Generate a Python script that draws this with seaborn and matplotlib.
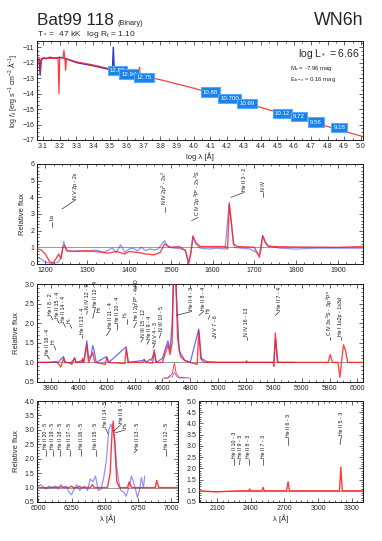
import numpy as np
import pandas as pd
import matplotlib
matplotlib.use("Agg")
import matplotlib.pyplot as plt
from matplotlib.ticker import MultipleLocator, FormatStrFormatter
import seaborn as sns

sns.set_theme(style="ticks")
plt.rcParams['font.family'] = ['Liberation Sans', 'DejaVu Sans']
plt.rcParams['mathtext.fontset'] = 'custom'
plt.rcParams['mathtext.rm'] = 'Liberation Sans'
plt.rcParams['mathtext.it'] = 'Liberation Sans:italic'

# ---------------- data: SED panel (log lambda, log f) ----------------
sed_model_x = [3.064, 3.08, 3.085, 3.09, 3.10, 3.15, 3.19, 3.195, 3.20, 3.22, 3.225, 3.23,
               3.235, 3.24, 3.30, 3.40, 3.50, 3.60, 3.675, 3.677, 3.68, 3.70, 3.72, 3.74,
               3.745, 3.75, 3.80, 4.00, 4.50, 5.012]
sed_model_y = [-11.65, -11.7, -12.6, -11.75, -11.7, -11.72, -11.7, -14.0, -11.7, -11.65, -11.2,
               -11.7, -12.5, -11.75, -11.95, -12.15, -12.4, -12.6, -12.75, -12.3, -12.8, -12.85,
               -12.9, -12.95, -12.75, -13.0, -13.1, -13.65, -15.2, -16.78]
sed_obs_x = [3.064, 3.075, 3.083, 3.087, 3.10, 3.12, 3.14, 3.16, 3.18, 3.20, 3.22, 3.25,
             3.30, 3.40, 3.50, 3.515, 3.52, 3.525, 3.53, 3.55, 3.60, 3.65, 3.70, 3.76]
sed_obs_y = [-11.75, -11.8, -12.8, -11.9, -11.7, -11.75, -11.65, -11.7, -11.7, -11.65, -11.7,
             -11.8, -12.0, -12.2, -12.45, -12.4, -11.0, -12.3, -12.5, -12.55, -12.65, -12.75,
             -12.85, -13.0]
phot_x = [3.545, 3.615, 3.705, 4.10, 4.215, 4.32, 4.53, 4.63, 4.73, 4.87]
phot_y = [-12.53, -12.74, -12.96, -13.9, -14.33, -14.65, -15.27, -15.5, -15.84, -16.18]
phot_lab = ["12.88", "12.94", "12.75", "10.88", "10.700", "10.69", "10.12", "9.72", "9.56", "9.18"]

# ---------------- data: UV panel ----------------
uv_model_x = [1180, 1190, 1200, 1210, 1218, 1225, 1232, 1237, 1242, 1246, 1252, 1270, 1300, 1330,
              1350, 1370, 1390, 1400, 1420, 1440, 1460, 1475, 1485, 1492, 1500, 1520, 1535, 1543,
              1548, 1553, 1560, 1570, 1600, 1630, 1636, 1640, 1645, 1650, 1660, 1700, 1712, 1716,
              1720, 1726, 1735, 1800, 1900, 1960]
uv_model_y = [0.9, 0.85, 0.6, 0.15, 0.05, 0.3, 0.6, 0.3, 1.0, 1.1, 0.8, 0.75, 0.8, 0.72, 0.65, 0.75,
              0.6, 0.75, 0.7, 0.6, 0.55, 0.7, 1.2, 1.1, 1.0, 1.05, 0.8, 0.05, 0.6, 1.65, 1.3, 1.05,
              1.05, 1.05, 0.9, 3.6, 2.5, 1.2, 1.05, 1.0, 0.4, 0.9, 1.7, 1.3, 1.05, 1.02, 1.0, 1.05]
uv_obs_x = [1180, 1190, 1200, 1210, 1220, 1230, 1238, 1244, 1250, 1260, 1280, 1300, 1320, 1340,
            1360, 1370, 1380, 1390, 1400, 1410, 1420, 1430, 1440, 1450, 1460, 1470, 1485, 1495,
            1510, 1525, 1535, 1543, 1550, 1553, 1560, 1570, 1590, 1610, 1630, 1640, 1646, 1652,
            1670, 1690, 1712, 1720, 1730, 1760, 1800, 1850, 1900, 1960]
uv_obs_y = [0.4, 0.3, 0.1, 0.05, 0.05, 0.1, 0.4, 1.35, 0.8, 0.75, 0.8, 0.75, 0.85, 0.7, 0.95, 0.7,
            1.15, 0.7, 0.9, 0.95, 0.8, 1.0, 0.8, 0.9, 0.85, 0.9, 1.4, 1.0, 0.95, 0.9, 0.85, 0.05,
            1.0, 1.7, 1.2, 0.95, 0.9, 0.95, 0.9, 3.7, 2.2, 1.0, 0.95, 0.9, 0.6, 1.7, 1.1, 0.95,
            0.9, 0.95, 0.95, 0.95]

# ---------------- data: optical panel ----------------
opt_model_x = [3700, 3780, 3840, 3870, 3890, 3900, 3930, 3950, 3970, 3980, 4020, 4026, 4035, 4058,
               4070, 4100, 4115, 4190, 4200, 4215, 4330, 4340, 4355, 4400, 4460, 4471, 4490, 4530,
               4541, 4555, 4600, 4640, 4655, 4670, 4680, 4695, 4710, 4730, 4760, 4800, 4850, 4861,
               4875, 4900, 5000, 5200, 5205, 5210, 5395, 5400, 5411, 5425, 5700, 5790, 5805, 5820,
               5860, 5875, 5885, 5900, 5915, 5930, 5960, 6080]
opt_model_y = [1.0, 1.0, 1.02, 0.88, 1.1, 1.0, 1.0, 0.95, 1.12, 1.0, 1.0, 1.1, 1.0, 1.45, 1.0, 1.25,
               1.0, 0.95, 1.12, 1.0, 0.97, 1.35, 1.0, 1.0, 1.0, 1.05, 1.0, 0.98, 1.32, 1.0, 1.0, 1.45,
               1.2, 1.5, 3.2, 3.2, 1.6, 1.15, 1.05, 1.0, 0.95, 1.8, 1.1, 1.0, 1.0, 1.0, 1.04, 1.0,
               1.0, 0.9, 1.75, 1.0, 1.0, 1.0, 1.2, 1.0, 1.0, 0.62, 1.0, 1.45, 1.3, 1.0, 1.0, 1.0]
opt_obs_x = [3700, 3800, 3850, 3890, 3905, 3940, 3970, 3980, 4025, 4035, 4058, 4070, 4090, 4100,
             4110, 4125, 4200, 4215, 4340, 4355, 4460, 4470, 4485, 4510, 4520, 4541, 4555, 4600,
             4630, 4640, 4655, 4670, 4680, 4695, 4720, 4760, 4800, 4861, 4880, 4920, 5000, 5400,
             5412, 5430, 5550]
opt_obs_y = [1.0, 1.0, 1.0, 1.15, 1.0, 0.98, 1.1, 1.0, 1.05, 1.0, 1.55, 1.1, 1.2, 1.43, 1.3, 1.0,
             1.15, 1.0, 1.4, 1.0, 1.05, 1.08, 1.0, 1.08, 1.05, 1.25, 1.0, 1.1, 1.45, 1.55, 1.3, 2.0,
             3.2, 3.2, 1.3, 1.05, 1.0, 1.85, 1.1, 1.02, 1.0, 1.0, 1.6, 1.0, 1.0]
ins_model_x = [4610, 4640, 4650, 4670, 4686, 4700, 4720, 4800]
ins_model_y = [0.6, 0.6, 0.65, 0.7, 0.98, 0.7, 0.62, 0.6]
ins_obs_x = [4610, 4640, 4650, 4670, 4686, 4700, 4720, 4760]
ins_obs_y = [0.6, 0.6, 0.64, 0.62, 0.75, 0.65, 0.6, 0.6]

# ---------------- data: red panel ----------------
red_model_x = [5980, 6100, 6170, 6200, 6230, 6250, 6260, 6300, 6310, 6320, 6390, 6406, 6420, 6520,
               6540, 6555, 6563, 6575, 6590, 6610, 6670, 6683, 6700, 6880, 6890, 6905, 7080]
red_model_y = [1.0, 1.0, 1.02, 1.0, 1.0, 1.05, 1.0, 1.0, 1.05, 1.0, 1.0, 1.1, 1.0, 1.0, 1.5, 3.0,
               3.3, 2.5, 1.2, 1.0, 1.0, 1.2, 1.0, 1.0, 1.25, 1.0, 1.0]
red_obs_x = [6000, 6020, 6040, 6060, 6080, 6100, 6130, 6150, 6170, 6190, 6210, 6230, 6250, 6270,
             6290, 6310, 6330, 6350, 6370, 6390, 6410, 6430, 6450, 6470, 6490, 6510, 6530, 6545,
             6560, 6575, 6590, 6605, 6620, 6640, 6660, 6680, 6700, 6715, 6730, 6745, 6760, 6775,
             6790, 6800]
red_obs_y = [1.05, 1.1, 1.0, 0.95, 1.05, 1.0, 1.05, 0.95, 1.1, 1.0, 1.05, 0.85, 0.75, 0.95, 1.1,
             0.9, 1.0, 1.05, 0.9, 1.3, 1.2, 1.4, 0.9, 0.95, 1.3, 1.9, 3.0, 3.2, 3.0, 2.6, 1.7, 1.2,
             0.9, 0.85, 0.7, 1.0, 1.4, 1.2, 0.95, 0.65, 0.9, 1.35, 1.0, 1.4]

# ---------------- data: near-UV panel ----------------
nuv_model_x = [1940, 2000, 2100, 2200, 2300, 2385, 2390, 2400, 2500, 2511, 2520, 2720, 2733, 2745,
               3190, 3203, 3215, 3400]
nuv_model_y = [1.0, 0.98, 0.95, 0.98, 1.0, 1.0, 1.08, 1.0, 1.0, 1.15, 1.0, 1.0, 1.4, 1.0, 1.0, 2.05,
               1.0, 1.0]

# ---------------- line identifications: (x_text, y_text, text, x_leader, y_leader) ----------------
uv_ids = [(1216, 2.55, "Lα", 1216, 2.2),
          (1272, 3.85, "N V 2p - 2s", 1240, 3.3),
          (1486, 3.45, "N IV 2p$^2$ - 2s$^2$", 1486, 3.15),
          (1566, 2.8, "C IV 2p $^2$P$^o$ - 2s $^2$S", 1550, 2.6),
          (1676, 4.3, "He II 3 - 2", 1644, 4.0),
          (1721, 4.3, "N IV", 1721, 4.05)]
opt_ids = [(3775, 1.17, "He II 16 - 4", 3790, 1.08),
           (3822, 1.42, "H$_\\zeta$", 3835, 1.32),
           (3800, 2.18, "He I 8 - 2", 3815, 2.08),
           (3845, 2.09, "He II 15 - 4", 3860, 1.99),
           (3890, 2.0, "He II 14 - 4", 3905, 1.9),
           (3936, 1.96, "H$_\\epsilon$", 3950, 1.87),
           (4024, 1.7, "He II 13 - 4", 4024, 1.62),
           (4060, 2.32, "N IV 12 - 9", 4058, 2.22),
           (4118, 2.39, "He II 12 - 4", 4100, 2.12),
           (4152, 2.22, "H$_\\delta$", 4152, 2.22),
           (4228, 1.85, "He II 11 - 4", 4200, 1.68),
           (4280, 1.98, "He II 10 - 4", 4275, 1.82),
           (4343, 2.1, "H$_\\gamma$", 4343, 1.97),
           (4415, 2.02, "He I 2p$^3$P$^o$ - 4d$^3$D", 4395, 1.88),
           (4463, 1.62, "N III 15 - 12", 4445, 1.52),
           (4505, 1.56, "He II 9 - 4", 4490, 1.46),
           (4547, 1.46, "N V 4 - 3", 4532, 1.37),
           (4592, 1.76, "N III 10 - 5", 4577, 1.62),
           (4811, 2.3, "He II 4 - 3", 4700, 2.2),
           (4897, 2.3, "He II 8 - 4", 4862, 2.2),
           (4940, 2.2, "H$_\\beta$", 4930, 2.1),
           (4983, 1.65, "N V 7 - 6", 4975, 1.6),
           (5205, 1.65, "N IV 16 - 13", 5205, 1.56),
           (5440, 2.3, "He II 7 - 4", 5411, 2.2),
           (5805, 1.65, "C IV 3s $^2$S - 3p $^2$P$^o$", 5805, 1.56),
           (5882, 1.65, "He I 1s2p - 1s3d", 5882, 1.56)]
red_ids = [(6057, 2.3, "He II 20 - 5", 6057, 2.08),
           (6108, 2.3, "He II 19 - 5", 6108, 2.08),
           (6165, 2.3, "He II 18 - 5", 6165, 2.08),
           (6238, 2.3, "He II 17 - 5", 6238, 2.08),
           (6323, 2.3, "He II 16 - 5", 6323, 2.08),
           (6432, 2.3, "He II 15 - 5", 6432, 2.08),
           (6505, 3.05, "He II 14 - 5", 6527, 2.85),
           (6625, 3.2, "He II 6 - 4", 6565, 2.95),
           (6655, 3.0, "H$_\\alpha$", 6580, 2.9),
           (6742, 2.3, "He II 13 - 5", 6720, 2.2),
           (6961, 2.3, "He II 12 - 5", 6961, 2.08)]
nuv_ids = [(2253, 2.4, "He II 10 - 3", 2253, 2.16),
           (2306, 2.4, "He II 9 - 3", 2300, 2.16),
           (2385, 2.4, "He II 8 - 3", 2385, 2.16),
           (2511, 2.4, "He II 7 - 3", 2511, 2.16),
           (2733, 3.35, "He II 6 - 3", 2733, 3.05),
           (3208, 3.45, "He II 5 - 3", 3195, 3.05)]

RED = "#ff1a1a"
BLUE = "#3a3aff"
GRAY = "#9a9a9a"


def spec(ax, x, y, color, lw, alpha, z):
    df = pd.DataFrame({"x": x, "y": y})
    sns.lineplot(data=df, x="x", y="y", ax=ax, color=color, lw=lw, alpha=alpha,
                 estimator=None, sort=False, zorder=z, legend=False)


def ids(ax, items, fs=3.8):
    yr = ax.get_ylim()
    gap = (yr[1] - yr[0]) * 0.012
    for xt, yt, txt, xl, yl in items:
        ax.text(xt, yt + gap, txt, rotation=90, ha="center", va="bottom",
                fontsize=fs, color="#111111", zorder=6)
        if not (xl == xt and yl == yt):
            ax.plot([xl, xt], [yl, yt], color="k", lw=0.45, zorder=6)


def style(ax, xmaj, xmin, ymaj, ymin):
    ax.xaxis.set_major_locator(MultipleLocator(xmaj))
    ax.xaxis.set_minor_locator(MultipleLocator(xmin))
    ax.yaxis.set_major_locator(MultipleLocator(ymaj))
    ax.yaxis.set_minor_locator(MultipleLocator(ymin))
    ax.tick_params(which="both", direction="in", top=True, right=True,
                   labelsize=5, pad=2, width=0.5)
    ax.tick_params(which="major", length=3)
    ax.tick_params(which="minor", length=1.5)
    for s in ax.spines.values():
        s.set_linewidth(0.7)
        s.set_color("k")
    ax.set_xlabel("")
    ax.set_ylabel("")


W, H = 3.82, 5.41
fig = plt.figure(figsize=(W, H), dpi=100)


def px_axes(l, t, r, b):
    return fig.add_axes([l / 382, 1 - b / 541, (r - l) / 382, (b - t) / 541])


# --- SED ---
ax1 = px_axes(37, 41, 363, 140)
spec(ax1, sed_obs_x, sed_obs_y, "#2020c0", 1.0, 0.9, 2)
spec(ax1, sed_model_x, sed_model_y, RED, 0.9, 0.85, 3)
ax1.set_xlim(3.064, 5.012)
ax1.set_ylim(-17, -10.6)
style(ax1, 0.1, 0.05, 1, 0.25)
ax1.set_xticks(np.arange(3.1, 5.01, 0.1))
ax1.set_xticklabels([f"{v:.1f}" for v in np.arange(3.1, 5.01, 0.1)])
for xx, yy, tt in zip(phot_x, phot_y, phot_lab):
    ax1.text(xx, yy, tt, ha="center", va="center", fontsize=4.4, color="white", zorder=7,
             bbox=dict(boxstyle="square,pad=0.35", fc="#1a82e8", ec="#55aaff", lw=0.8))
ax1.set_xlabel("log λ [Å]", fontsize=5.5, labelpad=2)
ax1.set_ylabel("log $f_\\lambda$ [erg s$^{-1}$ cm$^{-2}$ Å$^{-1}$]", fontsize=5, labelpad=2)
ax1.text(0.99, 0.84, "log L$_*$ = 6.66", transform=ax1.transAxes, ha="right",
         va="baseline", fontsize=7.5)
ax1.text(0.776, 0.705, "M$_\\mathrm{v}$ = -7.96 mag", transform=ax1.transAxes, ha="left",
         va="baseline", fontsize=4.3)
ax1.text(0.776, 0.595, "E$_\\mathrm{b-v}$ = 0.16 mag", transform=ax1.transAxes, ha="left",
         va="baseline", fontsize=4.3)

fig.text(37 / 382, 1 - 25 / 541, "Bat99 118", fontsize=12.3, va="baseline", ha="left")
fig.text(117 / 382, 1 - 25 / 541, "(Binary)", fontsize=5.2, va="baseline", ha="left")
fig.text(363 / 382, 1 - 25 / 541, "WN6h", fontsize=12.8, va="baseline", ha="right")
fig.text(37 / 382, 1 - 36.5 / 541, "T$_*$ =  47 kK   log R$_\\mathrm{t}$ = 1.10", fontsize=6.0,
         va="baseline", ha="left")

# --- UV ---
ax2 = px_axes(37, 164, 363, 264)
ax2.axhline(1.0, color=GRAY, lw=0.7, zorder=1)
spec(ax2, uv_obs_x, uv_obs_y, BLUE, 0.9, 0.55, 2)
spec(ax2, uv_model_x, uv_model_y, RED, 1.0, 0.8, 3)
ax2.set_xlim(1180, 1960)
ax2.set_ylim(0, 6)
style(ax2, 100, 20, 1, 0.2)
ax2.set_ylabel("Relative flux", fontsize=5.5, labelpad=3)
ids(ax2, uv_ids)

# --- optical ---
ax3 = px_axes(37, 284, 363, 382)
ax3.axhline(1.0, color=GRAY, lw=0.7, zorder=1)
spec(ax3, opt_obs_x, opt_obs_y, BLUE, 0.9, 0.75, 2)
spec(ax3, opt_model_x, opt_model_y, RED, 1.0, 0.8, 3)
spec(ax3, ins_obs_x, ins_obs_y, BLUE, 0.6, 0.6, 2)
spec(ax3, ins_model_x, ins_model_y, RED, 0.7, 0.8, 3)
ax3.set_xlim(3700, 6040)
ax3.set_ylim(0.5, 3.0)
style(ax3, 200, 50, 0.5, 0.1)
ax3.yaxis.set_major_formatter(FormatStrFormatter("%.1f"))
ax3.set_ylabel("Relative flux", fontsize=5.5, labelpad=3)
ids(ax3, opt_ids)

# --- red ---
ax4 = px_axes(37, 401, 178, 502)
ax4.axhline(1.0, color=GRAY, lw=0.7, zorder=1)
spec(ax4, red_obs_x, red_obs_y, BLUE, 0.9, 0.55, 2)
spec(ax4, red_model_x, red_model_y, RED, 1.0, 0.85, 3)
ax4.set_xlim(5990, 7050)
ax4.set_ylim(0.5, 4.0)
style(ax4, 250, 50, 0.5, 0.1)
ax4.yaxis.set_major_formatter(FormatStrFormatter("%.1f"))
ax4.set_ylabel("Relative flux", fontsize=5.5, labelpad=3)
ax4.set_xlabel("λ [Å]", fontsize=5.5, labelpad=2)
ids(ax4, red_ids)

# --- near UV ---
ax5 = px_axes(199, 401, 363, 502)
ax5.axhline(1.0, color=GRAY, lw=0.7, zorder=1)
spec(ax5, nuv_model_x, nuv_model_y, RED, 1.0, 0.85, 3)
ax5.set_xlim(1940, 3400)
ax5.set_ylim(0.5, 5.0)
style(ax5, 300, 50, 0.5, 0.1)
ax5.yaxis.set_major_formatter(FormatStrFormatter("%.1f"))
ax5.set_xlabel("λ [Å]", fontsize=5.5, labelpad=2)
ids(ax5, nuv_ids)
ax5.set_xticks([2100, 2400, 2700, 3000, 3300])

fig.savefig("out.png", dpi=100)
